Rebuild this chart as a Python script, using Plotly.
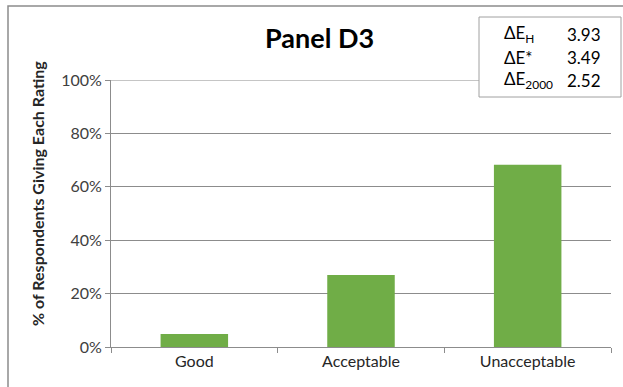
import plotly.graph_objects as go

categories = ["Good", "Acceptable", "Unacceptable"]
percent_rating = [4.9, 27.0, 68.3]
tick_vals = [0, 20, 40, 60, 80, 100]
tick_text = ["0%", "20%", "40%", "60%", "80%", "100%"]
delta_labels = ["ΔE<sub>H</sub>", "ΔE*", "ΔE<sub>2000</sub>"]
delta_values = ["3.93", "3.49", "2.52"]

W, H = 623, 387
L, R, T, B = 111, 12, 80, 40
PW, PH = W - L - R, H - T - B

def px(x):
    return (x - L) / PW

def py(y):
    return (H - B - y) / PH

FONT = "Lato, 'Open Sans', sans-serif"
GRID = "#8c8c8c"

fig = go.Figure(go.Bar(
    x=categories, y=percent_rating,
    marker=dict(color="#70AD47", line=dict(width=0)),
    width=0.405,
))

fig.update_layout(
    width=W, height=H,
    margin=dict(l=L, r=R, t=T, b=B),
    paper_bgcolor="white", plot_bgcolor="white",
    showlegend=False,
    font=dict(family=FONT, color="#404040"),
    bargap=0.6,
)

fig.update_yaxes(
    range=[0, 100], tickvals=tick_vals, ticktext=tick_text,
    showgrid=True, gridcolor=GRID, gridwidth=1,
    showline=True, linecolor=GRID, linewidth=1,
    ticks="outside", ticklen=5, tickcolor=GRID,
    tickfont=dict(size=16, color="#404040", family=FONT),
    zeroline=False,
)

fig.update_xaxes(
    showline=True, linecolor=GRID, linewidth=1,
    ticks="outside", ticklen=5, tickcolor=GRID,
    tickson="boundaries",
    tickfont=dict(size=16, color="#262626", family=FONT),
)

shapes = [
    # top gridline at 100%, which plotly skips at the range edge
    dict(type="line", xref="paper", yref="y", x0=0, x1=1, y0=100, y1=100,
         line=dict(color=GRID, width=1), layer="below"),
    # chart frame
    dict(type="rect", xref="paper", yref="paper",
         x0=px(8), x1=px(640), y0=py(400), y1=py(6),
         line=dict(color="#8c8c8c", width=1.5), fillcolor="rgba(0,0,0,0)", layer="above"),
    # colour-difference box
    dict(type="rect", xref="paper", yref="paper",
         x0=px(479), x1=px(621), y0=py(97), y1=py(17),
         line=dict(color="#a0a0a0", width=1), fillcolor="white", layer="above"),
]

annotations = [
    dict(text="<b>Panel D3</b>", xref="paper", yref="paper",
         x=px(319.5), y=py(37), xanchor="center", yanchor="middle", showarrow=False,
         font=dict(size=27, color="#000000", family=FONT)),
    dict(text="<b>% of Respondents Giving Each Rating</b>", xref="paper", yref="paper",
         x=px(37), y=py(194), xanchor="center", yanchor="middle",
         textangle=-90, showarrow=False,
         font=dict(size=16, color="#262626", family=FONT)),
]
rows_y = [34, 57, 80]
for lab, val, yy in zip(delta_labels, delta_values, rows_y):
    annotations.append(dict(text=lab, xref="paper", yref="paper",
                            x=px(502), y=py(yy), xanchor="left", yanchor="middle",
                            showarrow=False,
                            font=dict(size=17, color="#000000", family=FONT)))
    annotations.append(dict(text=val, xref="paper", yref="paper",
                            x=px(565), y=py(yy), xanchor="left", yanchor="middle",
                            showarrow=False,
                            font=dict(size=17, color="#000000", family=FONT)))

fig.update_layout(shapes=shapes, annotations=annotations)

fig.write_html("out.html")
